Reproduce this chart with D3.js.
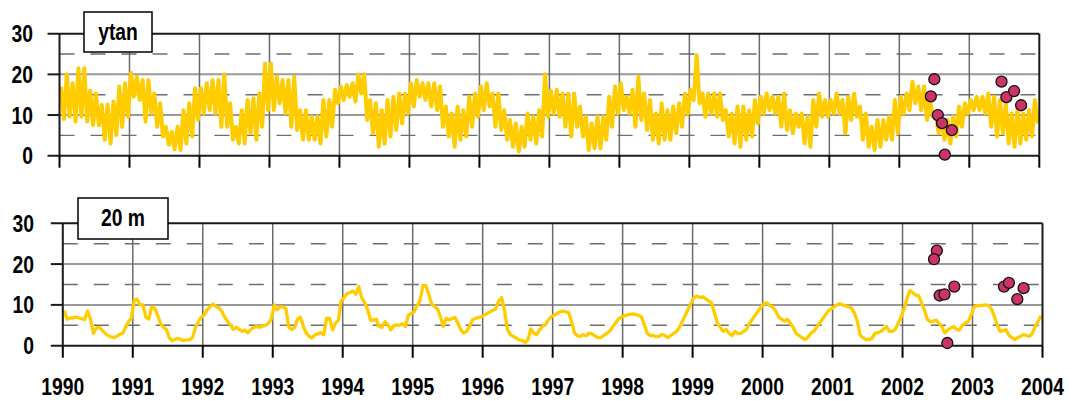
<!DOCTYPE html>
<html>
<head>
<meta charset="utf-8">
<script src="https://cdn.jsdelivr.net/npm/d3@7"></script>
<style>
  body { margin: 0; background: #fff; }
  svg text { font-family: "Liberation Sans", Arial, sans-serif; font-weight: bold; fill: #000; }
</style>
</head>
<body>
<div id="chart"></div>
<script>
// tick labels
var years = [1990,1991,1992,1993,1994,1995,1996,1997,1998,1999,2000,2001,2002,2003,2004];
var yTicks = [0, 10, 20, 30];
var yDashed = [5, 15, 25];

// ytan: monthly high / low of the daily record, one row per year (Jan..Dec)
var ytanHigh = [
  17,20,17.8,21.5,21.5,16,15.3,12.5,12.5,13.3,17,17.8,
  20.4,19.4,18.6,18.6,15.3,12.9,7.1,5.9,7.1,11.2,12.9,16.6,
  16.6,17.8,18.6,18.6,20,12.9,7.1,11.2,13.7,14.1,15.3,22.7,
  22.7,19.4,18.6,18.6,19.4,11.2,11.2,9.6,9.6,13.7,13.7,16.2,
  17,17.4,17.8,20,20,13.7,12.9,11.2,13.7,14.5,15.3,15.3,
  17.8,18.6,17.8,17.8,17.8,17,12.1,10.4,12.1,11.2,14.5,15.3,
  17,17.8,15.3,15.3,11.2,8.8,7.9,7.1,10.4,9.6,11.2,20,
  16,16.2,15.3,15.3,15.3,12.1,9.6,8.0,9.6,9.6,14.5,17,
  17.8,14.5,16.2,19.4,15.3,13.7,10.4,12.9,11.2,12.1,12.9,15.3,
  16.2,24.7,15.3,15.3,15.3,15.3,11.2,10.4,12.1,12.1,11.2,13.7,
  14.5,15.3,14.5,14.5,15.3,11.2,10.4,10.4,9.6,13.7,15.3,13.7,
  13.7,15.3,13.7,14.5,15.3,12.1,10.4,7.1,8.8,8.8,9.6,13.7,
  14.5,15.3,18.2,17,17,13.7,10.4,8.8,8.8,9.6,12.1,12.9,
  13.7,14.5,14.5,15.3,14.5,13.7,12.9,10.4,11.2,10.4,11.2,13.7
];
var ytanLow = [
  9,9.6,8.4,9.6,8.4,7.5,7.5,3.9,3,5.1,7.1,9.6,
  14.5,13.7,8.4,10.4,7.1,4.7,2.7,1.6,1.4,3,4.7,8.8,
  10.4,11.2,10.4,7.1,7.1,3.9,3,3,5.5,3.9,7.1,11.2,
  11.2,12.9,10.4,7.1,6.3,3.9,3.9,3.9,3,4.7,7.1,12.9,
  13.7,14.5,13.3,15.3,8.8,5.5,2.2,3,4.7,6.3,7.9,10.4,
  12.1,14.5,13.7,12.1,11.2,7.1,4.7,2.2,3.9,4.7,7.1,9.6,
  11.2,12.1,7.1,6.3,3.9,2.2,1.0,2.2,3.9,3,4.7,9.6,
  10.4,9.6,7.1,4.7,7.1,4.7,1.4,1.8,1.8,3.9,7.1,10.4,
  11.2,10.4,7.1,8.8,6.3,3.9,3,3.9,3.9,5.5,7.1,10.4,
  13.7,12.9,9.6,10.4,9.6,8.8,4.7,3,2.2,3.9,4.7,7.9,
  10.4,11.2,10.4,7.1,6.3,5.5,7.1,3,2.2,7.1,9.6,9.6,
  10.4,10.4,5.5,8.8,9.6,3.9,2.2,1.4,2.2,3.9,3.9,5.5,
  10.4,11.2,12.9,11.2,8.8,9.6,5.5,3.9,3,4.7,7.1,10.4,
  11.2,11.2,10.4,7.1,4.7,5.5,3,2.2,3,3.9,4.7,7.9
];

// 20 m: half-monthly values, one row per year
var m20Values = [
  8.6,6.5,6.8,6.8,7.0,6.8,6.6,6.4,8.5,6.5,3.0,4.3,4.5,3.8,3.0,2.5,2.2,2.0,2.3,2.8,3.0,4.5,5.8,6.8,
  11.2,11.4,10.0,10.0,7.0,6.5,9.5,9.2,7.5,5.5,4.5,4.0,2.0,1.2,1.5,1.8,1.5,1.3,1.4,1.5,2.0,4.5,5.8,7.0,
  7.5,8.8,9.5,10.2,9.6,9.3,8.5,7.0,6.0,5.0,4.0,4.5,4.0,3.5,3.8,3.2,4.0,4.5,4.7,4.5,4.8,5.0,5.5,6.5,
  10.0,8.8,9.5,9.5,9.2,4.5,4.0,4.5,6.5,7.0,4.7,3.1,2.3,1.9,2.7,2.9,3.2,2.7,6.7,6.7,3.9,5.5,6.3,11.0,
  11.8,12.8,13.0,13.4,12.6,14.5,11.8,10.6,9.0,6.3,6.3,6.5,4.7,4.5,5.9,5.1,3.9,4.9,5.1,5.0,5.4,4.7,7.5,7.9,
  8.3,9.8,11.0,14.7,14.7,12.6,10.2,9.6,9.0,7.1,4.7,6.7,6.3,6.7,6.9,5.5,3.9,3.1,3.5,4.7,6.3,6.7,6.9,7.1,
  7.5,7.9,8.3,8.7,9.0,11.0,11.8,8.7,3.9,2.7,2.3,1.9,1.4,1.3,0.8,1.4,4.1,3.1,2.7,3.9,4.7,5.1,6.3,7.1,
  7.5,7.9,8.3,8.5,8.3,8.1,5.9,3.1,2.4,2.3,2.7,2.4,3.1,2.9,2.4,2.0,2.0,2.5,3.0,3.5,4.5,5.5,6.5,7.0,
  7.3,7.5,7.7,7.8,7.6,7.5,7.0,5.0,3.0,2.5,2.5,2.2,2.3,2.8,2.5,2.0,2.5,3.0,3.5,4.5,6.0,7.5,9.0,10.5,
  11.8,12.2,11.8,12.0,11.5,11.0,10.5,8.0,5.5,4.5,3.5,4.0,3.0,2.5,3.5,3.0,3.0,3.5,4.0,5.5,6.5,7.5,8.5,9.5,
  10.3,10.5,9.8,9.5,8.5,7.0,6.5,6.0,6.5,5.5,4.5,3.0,2.5,2.0,1.5,2.0,3.0,3.5,4.5,5.5,6.5,7.5,8.5,9.0,
  9.5,10.0,10.3,10.0,9.8,9.5,9.2,8.0,6.0,2.5,2.0,1.5,1.5,1.8,3.0,3.2,3.5,4.0,4.7,3.5,3.5,4.0,5.5,7.0,
  9.0,11.5,13.5,13.0,12.4,12.3,10.5,8.7,6.5,5.9,6.0,6.3,5.5,4.7,3.1,3.8,4.3,4.7,4.0,3.8,5.0,5.5,5.9,7.5,
  9.5,9.8,9.8,9.9,10.0,9.8,9.0,7.2,5.0,3.5,3.7,3.9,2.5,2.0,1.5,2.0,2.3,2.7,2.5,2.3,3.0,4.7,6.0,7.3
];

// sampled observations (decimal year, value)
var ytanObsDate = [2002.50,2002.45,2002.55,2002.61,2002.75,2002.65,2003.46,2003.53,2003.64,2003.74];
var ytanObsVal  = [18.8,14.6,10.0,8.0,6.3,0.25,18.2,14.4,15.9,12.4];
var m20ObsDate  = [2002.49,2002.45,2002.53,2002.60,2002.74,2002.64,2003.45,2003.52,2003.73,2003.64];
var m20ObsVal   = [23.3,21.2,12.3,12.6,14.5,0.66,14.5,15.4,14.1,11.4];

var lineColor = "#ffcc00";
var dotColor = "#cc3366";
var narrow = 0.84; // horizontal squeeze to mimic the condensed bold face

var svg = d3.select("#chart").append("svg")
  .attr("width", 1069)
  .attr("height", 401);

// build the point lists from the arrays
var ytanPts = [];
ytanHigh.forEach(function (h, i) {
  var t = 1990 + i / 12;
  ytanPts.push({ t: t + 0.25 / 12, v: h });
  ytanPts.push({ t: t + 0.75 / 12, v: ytanLow[i] });
});
var m20Pts = m20Values.map(function (v, i) { return { t: 1990 + (i + 0.5) / 24, v: v }; });

function label(g, x, y, txt, anchor, size) {
  return g.append("text")
    .attr("transform", "translate(" + x + "," + y + ") scale(" + narrow + ",1)")
    .attr("text-anchor", anchor)
    .style("font-size", size + "px")
    .text(txt);
}

function panel(opts) {
  var x = d3.scaleLinear().domain([1990, 2004]).range([opts.x0, opts.x1]);
  var y = d3.scaleLinear().domain([0, 30]).range([opts.yBottom, opts.yTop]);
  var g = svg.append("g");

  // horizontal grid
  g.selectAll(".hg").data([10, 20]).enter().append("line")
    .attr("x1", x(1990)).attr("x2", x(2004))
    .attr("y1", function (d) { return y(d); }).attr("y2", function (d) { return y(d); })
    .attr("stroke", "#9a9a9a").attr("stroke-width", 2);
  g.selectAll(".hd").data(yDashed).enter().append("line")
    .attr("x1", x(1990) - 6).attr("x2", x(2004))
    .attr("y1", function (d) { return y(d); }).attr("y2", function (d) { return y(d); })
    .attr("stroke", "#6e6e6e").attr("stroke-width", 1.4)
    .attr("stroke-dasharray", "15,16").attr("stroke-dashoffset", -6);

  // vertical year grid
  g.selectAll(".vg").data(years.slice(1, -1)).enter().append("line")
    .attr("x1", function (d) { return x(d); }).attr("x2", function (d) { return x(d); })
    .attr("y1", y(30)).attr("y2", y(0))
    .attr("stroke", "#6a6a6a").attr("stroke-width", 1.5);

  // series
  g.append("path")
    .datum(opts.pts)
    .attr("fill", "none")
    .attr("stroke", lineColor)
    .attr("stroke-width", opts.lw)
    .attr("stroke-linejoin", "round")
    .attr("d", d3.line().x(function (d) { return x(d.t); }).y(function (d) { return y(d.v); }));

  // frame
  g.append("line").attr("x1", x(1990) - 12).attr("x2", x(2004)).attr("y1", y(30)).attr("y2", y(30))
    .attr("stroke", "#1a1a1a").attr("stroke-width", 2);
  g.append("line").attr("x1", x(1990) - 12).attr("x2", x(2004)).attr("y1", y(0)).attr("y2", y(0))
    .attr("stroke", "#1a1a1a").attr("stroke-width", 2);
  g.selectAll(".yt").data([10, 20]).enter().append("line")
    .attr("x1", x(1990) - 12).attr("x2", x(1990))
    .attr("y1", function (d) { return y(d); }).attr("y2", function (d) { return y(d); })
    .attr("stroke", "#1a1a1a").attr("stroke-width", 2);
  g.selectAll(".edge").data([1990, 2004]).enter().append("line")
    .attr("x1", function (d) { return x(d); }).attr("x2", function (d) { return x(d); })
    .attr("y1", y(30)).attr("y2", y(0))
    .attr("stroke", "#1a1a1a").attr("stroke-width", 2);
  g.selectAll(".xt").data(years).enter().append("line")
    .attr("x1", function (d) { return x(d); }).attr("x2", function (d) { return x(d); })
    .attr("y1", y(0)).attr("y2", y(0) + 12)
    .attr("stroke", "#000").attr("stroke-width", 2);

  // y labels
  yTicks.forEach(function (d) { label(g, opts.labelRight, y(d) + 8.5, d, "end", 23); });

  // observations
  g.selectAll(".dot").data(opts.obsDate).enter().append("circle")
    .attr("cx", function (d) { return x(d); })
    .attr("cy", function (d, i) { return y(opts.obsVal[i]); })
    .attr("r", 5.5)
    .attr("fill", dotColor).attr("stroke", "#111").attr("stroke-width", 1.3);

  // label box
  g.append("rect").attr("x", opts.box[0]).attr("y", opts.box[1])
    .attr("width", opts.box[2]).attr("height", opts.box[3])
    .attr("fill", "#fff").attr("stroke", "#000").attr("stroke-width", 1.5);
  label(g, opts.box[0] + opts.box[2] / 2, opts.box[1] + 28, opts.title, "middle", 23);

  return { x: x, y: y, g: g };
}

panel({ x0: 59.5, x1: 1039.3, yTop: 33.7, yBottom: 155.7, pts: ytanPts, lw: 4,
  obsDate: ytanObsDate, obsVal: ytanObsVal, labelRight: 33, box: [84, 12, 68, 40], title: "ytan" });

var bottom = panel({ x0: 62.8, x1: 1042.5, yTop: 223.3, yBottom: 345.7, pts: m20Pts, lw: 3.3,
  obsDate: m20ObsDate, obsVal: m20ObsVal, labelRight: 34, box: [78, 198, 90, 41], title: "20 m" });

// year labels under the bottom panel
years.forEach(function (d) { label(bottom.g, bottom.x(d), 395, d, "middle", 23); });
</script>
</body>
</html>
